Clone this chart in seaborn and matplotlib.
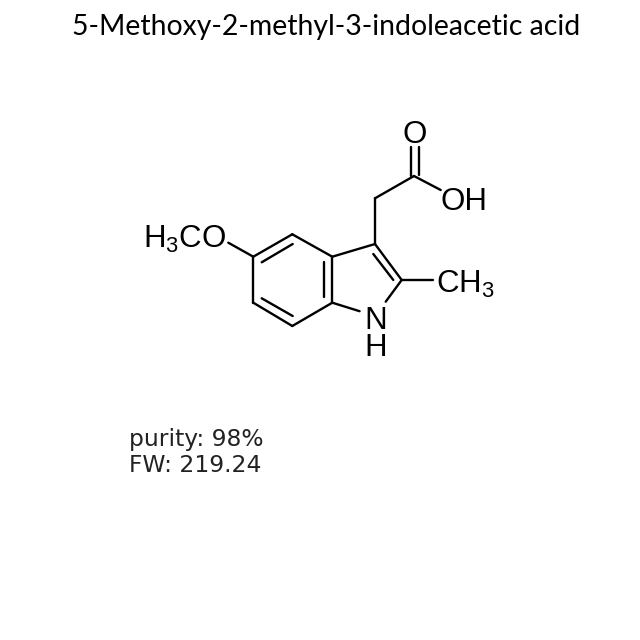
import pandas as pd
import numpy as np
import matplotlib
matplotlib.use("Agg")
import matplotlib.pyplot as plt
import seaborn as sns

# Page text
title = "5-Methoxy-2-methyl-3-indoleacetic acid"
info_lines = ["purity: 98%", "FW: 219.24"]

# Bond ends, in image pixels
bond_x1 = [253.3, 292.3, 332.3, 332.3, 292.3, 253.3, 228.3, 332.3, 375.0, 401.7, 332.3, 375.0, 375.0, 414.0, 410.7, 419.3, 401.7, 261.7, 324.0, 261.7, 373.3]
bond_y1 = [256.7, 234.3, 256.7, 302.7, 326.0, 302.7, 242.7, 256.7, 244.0, 280.0, 302.7, 244.0, 198.3, 176.0, 146.7, 146.7, 280.0, 262.3, 262.3, 298.3, 254.0]
bond_x2 = [292.3, 332.3, 332.3, 292.3, 253.3, 253.3, 253.3, 375.0, 401.7, 385.7, 359.6, 375.0, 414.0, 440.7, 410.7, 419.3, 432.7, 292.7, 324.0, 292.7, 393.3]
bond_y2 = [234.3, 256.7, 302.7, 326.0, 302.7, 256.7, 256.7, 244.0, 280.0, 301.7, 311.2, 198.3, 176.0, 190.0, 176.0, 175.0, 280.0, 244.0, 297.3, 316.0, 280.0]

# Atom labels
label_text = [r"H$_{\mathregular{3}}$CO", "O", "OH", r"CH$_{\mathregular{3}}$", "N", "H"]
label_x = [143, 403, 441, 436, 364, 364]
label_y = [248, 143, 210, 293, 329, 356]

# One row per bond end so lineplot can draw each bond as its own unit
bonds = pd.DataFrame({
    "bond": np.tile(np.arange(len(bond_x1)), 2),
    "x": bond_x1 + bond_x2,
    "y": bond_y1 + bond_y2,
})

sns.set_theme(style="white")
plt.rcParams["mathtext.fontset"] = "custom"
plt.rcParams["mathtext.rm"] = "Liberation Sans"

fig, ax = plt.subplots(figsize=(6.4, 6.4), dpi=100)
fig.subplots_adjust(left=0, right=1, top=1, bottom=0)

sns.lineplot(
    data=bonds,
    x="x",
    y="y",
    units="bond",
    estimator=None,
    sort=False,
    color="black",
    linewidth=1.7,
    ax=ax,
)

ax.set_xlim(0, 640)
ax.set_ylim(640, 0)
ax.axis("off")

for text, x, y in zip(label_text, label_x, label_y):
    ax.text(x, y, text, family="Liberation Sans", fontsize=22.5, color="black",
            ha="left", va="baseline")

ax.text(326, 35, title, family="Lato", fontsize=20.4, color="black",
        ha="center", va="baseline")

ax.text(129, 446, info_lines[0], family="DejaVu Sans", fontsize=16.8, color="#222222",
        ha="left", va="baseline")
ax.text(129, 472, info_lines[1], family="DejaVu Sans", fontsize=16.8, color="#222222",
        ha="left", va="baseline")

fig.savefig("out.png", dpi=100, facecolor="white")
